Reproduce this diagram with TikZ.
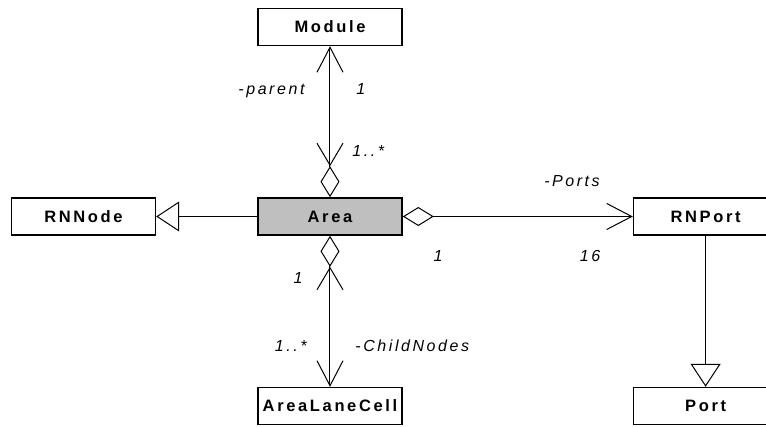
\documentclass[tikz,border=0pt]{standalone}
\usepackage{fontspec}
\setmainfont{Liberation Sans}
\newfontfamily\spacedfont[LetterSpace=16]{Liberation Sans}
\usepackage{tikz}
\usetikzlibrary{positioning}
\usetikzlibrary{arrows.meta}

\begin{document}
\begin{tikzpicture}[
            node distance = 151pt, % vertical gap between boxes
            line width = 1pt
        ]

        \tikzstyle{cls}=[
            draw,
            line width = 1.6pt,
            fill = white,
            minimum width = 144pt,
            minimum height = 37pt,
            font = \spacedfont\fontsize{16.5}{18}\selectfont\bfseries
        ]
        \tikzstyle{lbl}=[
            inner sep = 0pt,
            font = \spacedfont\fontsize{16}{18}\selectfont\itshape
        ]
        \tikzstyle{assoc}=[
            {Straight Barb[length=25pt, width=26pt]}-{Straight Barb[length=22pt, width=26pt, sep=0pt] Diamond[open, length=31pt, width=19pt]}
        ]
        \tikzstyle{aggr}=[
            {Diamond[open, length=31pt, width=19pt]}-{Straight Barb[length=25pt, width=26pt]}
        ]
        \tikzstyle{inherit}=[-{Triangle[open, length=23pt, width=30pt]}]

        \clip (-330pt,-210.5pt) rectangle (436pt,216.5pt);

% classes
        \node[cls, fill = black!25] (Area) {Area};
        \node[cls] (Module) [above = of Area] {Module};
        \node[cls] (AreaLaneCell) [below = of Area] {AreaLaneCell};
        \node[cls] (RNNode) [left = 101pt of Area] {RNNode};
        \node[cls] (RNPort) [right = 230pt of Area] {RNPort};
        \node[cls] (Port) [below = of RNPort] {Port};

% associations
        \path[assoc] (Module) edge node {} (Area);
        \path[assoc] (AreaLaneCell) edge node {} (Area);
        \path[aggr] (Area) edge node {} (RNPort);

% generalizations
        \path[inherit] (Area) edge node {} (RNNode);
        \path[inherit] (RNPort) edge node {} (Port);

% role names and multiplicities
        \node[lbl, anchor = base east] (parentRole) at (-25pt,121.5pt) {-parent};
        \node[lbl, anchor = base west] (parentMult) at (26pt,121.5pt) {1};
        \node[lbl, anchor = base west] (areaMult) at (22pt,59.5pt) {1..*};
        \node[lbl, anchor = base east] (ownerMult) at (-27pt,-67.5pt) {1};
        \node[lbl, anchor = base east] (childMult) at (-23pt,-135.5pt) {1..*};
        \node[lbl, anchor = base west] (childRole) at (25pt,-135.5pt) {-ChildNodes};
        \node[lbl, anchor = base] (portsRole) at (242pt,29.5pt) {-Ports};
        \node[lbl, anchor = base] (holderMult) at (108pt,-45.5pt) {1};
        \node[lbl, anchor = base] (portsMult) at (260pt,-45.5pt) {16};

  \end{tikzpicture}
\end{document}
